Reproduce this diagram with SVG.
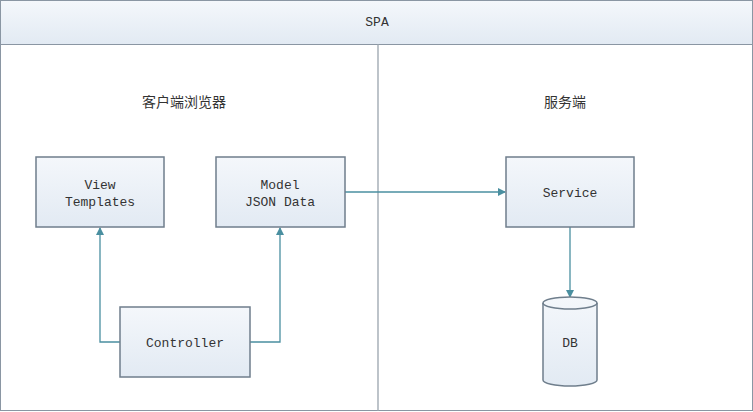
<svg xmlns="http://www.w3.org/2000/svg" width="753" height="412" viewBox="0 0 753 412">
<defs>
<linearGradient id="g" x1="0" y1="0" x2="0" y2="1"><stop offset="0" stop-color="#f4f7fb"/><stop offset="1" stop-color="#e2eaf3"/></linearGradient>
<marker id="a" markerWidth="8" markerHeight="8" refX="7" refY="4" orient="auto" markerUnits="userSpaceOnUse"><path d="M0,0 L8,4 L0,8 z" fill="#4a8fa0"/></marker>
</defs>
<style>
.box{fill:url(#g);stroke:#6f7e8c;stroke-width:1.5}
.t{font-family:"Liberation Mono",monospace;font-size:13px;fill:#333;text-anchor:middle}
.c{font-family:"Noto Sans CJK SC",sans-serif;font-size:14px;fill:#333;text-anchor:middle}
.ln{fill:none;stroke:#4a8fa0;stroke-width:1.3;marker-end:url(#a)}
</style>
<rect x="0.5" y="0.5" width="752" height="410" fill="#fff" stroke="#8a96a3"/>
<g id="header"><rect x="0.5" y="0.5" width="752" height="44" fill="url(#g)" stroke="#8a96a3"/><text class="t" x="377" y="26">SPA</text></g>
<line x1="378" y1="44" x2="378" y2="411" stroke="#9aa4ad" stroke-width="1.3"/>
<text class="c" x="184" y="107">客户端浏览器</text>
<text class="c" x="565" y="107">服务端</text>
<g id="connectors">
<path class="ln" d="M120,342 H100 V228"/>
<path class="ln" d="M250,342 H280 V228"/>
<path class="ln" d="M345,192 H505"/>
<path class="ln" d="M570,227 V297"/>
</g>
<g id="view"><rect class="box" x="36" y="157" width="128" height="70"/><text class="t" x="100" y="189">View</text><text class="t" x="100" y="206">Templates</text></g>
<g id="model"><rect class="box" x="216" y="157" width="129" height="70"/><text class="t" x="280" y="189">Model</text><text class="t" x="280" y="206">JSON Data</text></g>
<g id="service"><rect class="box" x="506" y="157" width="128" height="70"/><text class="t" x="570" y="197">Service</text></g>
<g id="controller"><rect class="box" x="120" y="307" width="130" height="70"/><text class="t" x="185" y="347">Controller</text></g>
<g id="db"><path class="box" d="M543,303 A27,6 0 0 1 597,303 V380 A27,6 0 0 1 543,380 Z"/><path d="M543,303 A27,6 0 0 0 597,303" fill="none" stroke="#6f7e8c" stroke-width="1.5"/><text class="t" x="570" y="347">DB</text></g>
</svg>
